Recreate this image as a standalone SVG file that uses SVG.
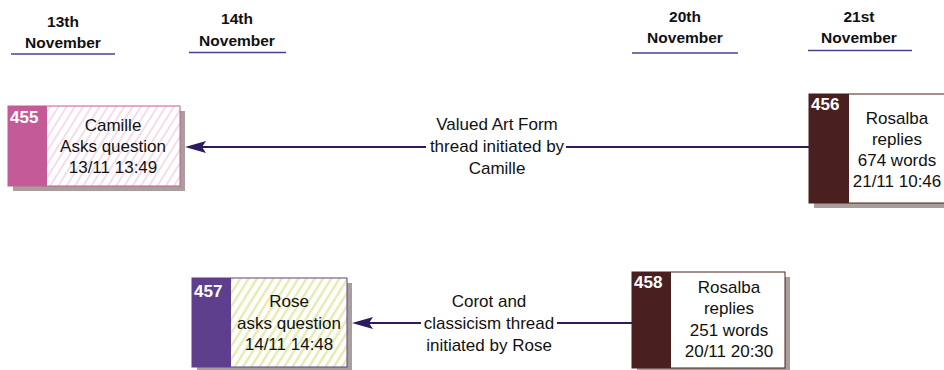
<svg xmlns="http://www.w3.org/2000/svg" width="944" height="370" viewBox="0 0 944 370">
<style>
.hdr{font-family:"Liberation Sans",Arial,sans-serif;font-weight:bold;font-size:15.5px;fill:#111;text-anchor:middle}
.ul{stroke:#4b3f92;stroke-width:1.3}
.txt{font-family:"Liberation Sans",Arial,sans-serif;font-size:17px;fill:#111;text-anchor:middle}
.num{font-family:"Liberation Sans",Arial,sans-serif;font-weight:bold;font-size:17px;fill:#fff}
.lbl{font-family:"Liberation Sans",Arial,sans-serif;font-size:17px;fill:#111;text-anchor:middle}
.shadow{fill:#a89e9c}
.conn{stroke:#2e1a60;stroke-width:2;fill:none}
.head{fill:#2e1a60}
</style>
<defs>
<pattern id="hPink" width="7" height="7" patternUnits="userSpaceOnUse" patternTransform="rotate(32)">
<rect width="7" height="7" fill="#fff"/>
<line x1="1" y1="0" x2="1" y2="7" stroke="#f3cde0" stroke-width="1.4"/>
</pattern>
<pattern id="hYellow" width="7" height="7" patternUnits="userSpaceOnUse" patternTransform="rotate(32)">
<rect width="7" height="7" fill="#fff"/>
<line x1="1.5" y1="0" x2="1.5" y2="7" stroke="#e3e9a6" stroke-width="2.2"/>
</pattern>
</defs>
<rect width="944" height="370" fill="#fff"/>
<g id="headers">
<text class="hdr" x="63" y="27">13th</text>
<text class="hdr" x="63" y="48">November</text>
<line class="ul" x1="11" y1="54" x2="115" y2="54"/>
<text class="hdr" x="237" y="24">14th</text>
<text class="hdr" x="237" y="46">November</text>
<line class="ul" x1="189" y1="52.5" x2="286" y2="52.5"/>
<text class="hdr" x="685" y="22">20th</text>
<text class="hdr" x="685" y="43">November</text>
<line class="ul" x1="632" y1="53" x2="738" y2="53"/>
<text class="hdr" x="859" y="22">21st</text>
<text class="hdr" x="859" y="43">November</text>
<line class="ul" x1="808" y1="50.5" x2="912" y2="50.5"/>
</g>
<g id="connectors">
<line class="conn" x1="809" y1="147" x2="200" y2="147"/>
<path class="head" d="M185,147 L206,141 L202,147 L206,153 Z"/>
<rect x="426" y="114" width="140" height="66" fill="#fff"/>
<text class="lbl" x="497" y="130">Valued Art Form</text>
<text class="lbl" x="497" y="152">thread initiated by</text>
<text class="lbl" x="497" y="174">Camille</text>
<line class="conn" x1="632" y1="323" x2="367" y2="323"/>
<path class="head" d="M352,323 L373,317 L369,323 L373,329 Z"/>
<rect x="421" y="290" width="136" height="66" fill="#fff"/>
<text class="lbl" x="489" y="307">Corot and</text>
<text class="lbl" x="489" y="329">classicism thread</text>
<text class="lbl" x="489" y="351">initiated by Rose</text>
</g>
<g id="node455">
<rect class="shadow" x="13" y="111" width="172" height="80"/>
<rect x="8" y="106" width="172" height="80" fill="url(#hPink)" stroke="#c45a98" stroke-width="1"/>
<rect x="8" y="106" width="39" height="80" fill="#c45a98"/>
<text class="num" x="10" y="123">455</text>
<text class="txt" x="113" y="131">Camille</text>
<text class="txt" x="113" y="152">Asks question</text>
<text class="txt" x="113" y="173">13/11 13:49</text>
</g>
<g id="node456">
<rect class="shadow" x="814" y="99" width="140" height="109"/>
<rect x="809" y="94" width="140" height="109" fill="#fff" stroke="#4a1f1f" stroke-width="1"/>
<rect x="809" y="94" width="40" height="109" fill="#4a1f1f"/>
<text class="num" x="811" y="110">456</text>
<text class="txt" x="897" y="124">Rosalba</text>
<text class="txt" x="897" y="145">replies</text>
<text class="txt" x="897" y="166">674 words</text>
<text class="txt" x="897" y="187">21/11 10:46</text>
</g>
<g id="node457">
<rect class="shadow" x="197" y="283" width="155" height="89"/>
<rect x="192" y="278" width="155" height="89" fill="url(#hYellow)" stroke="#5e3f8e" stroke-width="1"/>
<rect x="192" y="278" width="39" height="89" fill="#5e3f8e"/>
<text class="num" x="194" y="297">457</text>
<text class="txt" x="289" y="307">Rose</text>
<text class="txt" x="289" y="329">asks question</text>
<text class="txt" x="289" y="350">14/11 14:48</text>
</g>
<g id="node458">
<rect class="shadow" x="637" y="277" width="153" height="96"/>
<rect x="632" y="272" width="153" height="96" fill="#fff" stroke="#4a1f1f" stroke-width="1"/>
<rect x="632" y="272" width="39" height="96" fill="#4a1f1f"/>
<text class="num" x="634" y="288">458</text>
<text class="txt" x="729" y="293">Rosalba</text>
<text class="txt" x="729" y="314">replies</text>
<text class="txt" x="729" y="336">251 words</text>
<text class="txt" x="729" y="357">20/11 20:30</text>
</g>
</svg>
